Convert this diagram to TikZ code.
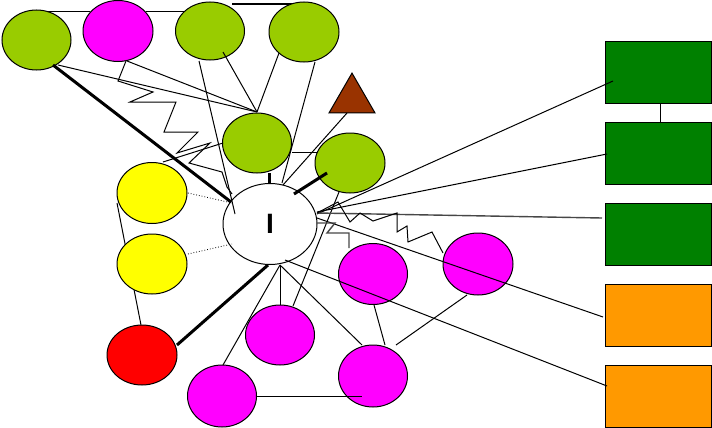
\documentclass[tikz,border=0pt]{standalone}
\usepackage{fontspec}
\setmainfont{Liberation Sans}
\usetikzlibrary{shapes.geometric,calc,backgrounds}
\definecolor{lgreen}{HTML}{99CC00}
\definecolor{mag}{HTML}{FF00FF}
\definecolor{yel}{HTML}{FFFF00}
\definecolor{rd}{HTML}{FF0000}
\definecolor{brn}{HTML}{993300}
\definecolor{dgreen}{HTML}{008000}
\definecolor{orng}{HTML}{FF9900}
\tikzset{
  ell/.style={ellipse, draw=black, line width=1pt, inner sep=0pt, minimum width=70pt, minimum height=61pt},
  gbub/.style={ell, fill=lgreen},
  mbub/.style={ell, fill=mag},
  ybub/.style={ell, fill=yel},
  rbub/.style={ell, fill=rd},
  boxn/.style={rectangle, draw=black, line width=1pt, minimum width=106pt, minimum height=62pt, inner sep=0pt},
  conn/.style={line width=1pt, black},
  heavy/.style={line width=3pt, black},
  dotl/.style={line width=0.8pt, black, dotted},
  grayl/.style={line width=1.4pt, black!72},
}
\begin{document}
\begin{tikzpicture}[x=1pt, y=-1pt]
\useasboundingbox (0,0) rectangle (712,428);
% nodes
\node[gbub, minimum width=69pt, minimum height=60pt] (G1) at (36.5,40) {};
\node[mbub] (M1) at (118,31) {};
\node[gbub, minimum width=69pt, minimum height=58pt] (G2) at (210,31) {};
\node[gbub, minimum height=60pt] (G3) at (304,32) {};
\node[gbub, minimum width=69pt, minimum height=60pt] (G4) at (257,143) {};
\node[gbub, minimum height=60pt] (G5) at (350,163) {};
\node[regular polygon, regular polygon sides=3, draw=black, line width=1pt, fill=brn, inner sep=0pt, minimum size=53pt] (T) at (352,99.6) {};
\node[ybub] (Y1) at (152,193) {};
\node[ybub, minimum height=60pt] (Y2) at (152,264) {};
\node[rbub, minimum height=60pt] (R) at (142,355) {};
\node[ell, fill=white, minimum width=94pt, minimum height=81pt, font=\bfseries\fontsize{28}{30}\selectfont] (C) at (270,224) {I};
\node[mbub, minimum width=69pt, minimum height=60pt] (M2) at (280,335) {};
\node[mbub, minimum width=69pt, minimum height=62pt] (M3) at (222,396) {};
\node[mbub, minimum width=69pt] (M4) at (373,274) {};
\node[mbub, minimum width=69pt, minimum height=62pt] (M5) at (373,376) {};
\node[mbub, minimum height=62pt] (M6) at (478,264) {};
\node[boxn, fill=dgreen] (R1) at (658,72.5) {};
\node[boxn, fill=dgreen] (R2) at (658,153.5) {};
\node[boxn, fill=dgreen] (R3) at (658,234) {};
\node[boxn, fill=orng] (R4) at (658,315) {};
\node[boxn, fill=orng] (R5) at (658,396) {};
% hidden connectors
\begin{scope}[on background layer]
\draw[conn] ($(G1)+(11.5,-28)$) -- ($(M1)+(-28,-19)$);
\draw[conn] ($(M1)+(28,-19)$) -- ($(G2)+(-22,-19)$);
\draw[line width=2.5pt] ($(G2)+(22,-27)$) -- ($(G3)+(-11,-28)$);
\draw[conn] ($(Y1)+(-35,10)$) -- ($(R)+(-1,-30)$);
\draw[conn] ($(R1)+(2,31.5)$) -- ($(R2)+(2,-31.5)$);
\end{scope}
% connectors
\draw[heavy] ($(G1)+(16.5,25)$) -- ($(C)+(-39,-22)$);
\draw[conn] ($(G1)+(21.5,25)$) -- ($(G4)+(0,-31)$);
\draw[conn] ($(M1)+(9,30)$) -- ($(G4)+(0,-31)$);
\draw[conn] ($(M1)+(8,30)$) -- ++(-8,20) -- ++(35,11) -- ++(-23,10) -- ++(46,0)
  -- ++(-12,30) -- ++(34,0) -- ++(-21,21) -- ++(33,-10) -- ++(-21,20) -- ++(33,9)
  -- ++(5,15) -- ($(C)+(-38,-30)$);
\draw[conn] ($(Y1)+(11,-31)$) -- ($(G4)+(-34,0)$);
\draw[conn] ($(G2)+(-11,30)$) -- ($(C)+(-35,-10)$);
\draw[conn] ($(G2)+(13,21)$) -- ($(G4)+(0,-31)$);
\draw[conn] ($(G3)+(-25,21)$) -- ($(G4)+(0,-31)$);
\draw[conn] ($(G3)+(11,30)$) -- ($(C)+(12,-41)$);
\draw[conn] ($(T)+(-5,13.4)$) -- ($(C)+(13,-39)$);
\draw[conn] ($(G4)+(35,9)$) -- ($(G5)+(-33,-11)$);
\draw[heavy] ($(G4)+(12,30)$) -- ($(C)+(-1,-41)$);
\draw[heavy] ($(G5)+(-23,10)$) -- ($(C)+(24,-30)$);
\draw[dotl] ($(Y1)+(36,0)$) -- ($(C)+(-38,-21)$);
\draw[dotl] ($(Y2)+(36,-10)$) -- ($(C)+(-38,20)$);
\draw[heavy] ($(R)+(35,-10)$) -- ($(C)+(-2,41)$);
\draw[conn] ($(C)+(10,41)$) -- ($(M3)+(1,-31)$);
\draw[conn] ($(C)+(10,41)$) -- ($(M2)+(0,-30)$);
\draw[conn] ($(C)+(10,41)$) -- ($(M5)+(-11,-31)$);
\draw[conn] ($(G5)+(-11,29)$) -- ($(M2)+(13,-29)$);
\draw[conn] ($(C)+(15,36)$) -- ($(R5)+(-51,-10)$);
\draw[conn] ($(C)+(47,-6)$) -- ($(R4)+(-55,2)$);
\draw[conn] ($(C)+(47,-10)$) -- ($(R1)+(-45,8.5)$);
\draw[conn] ($(C)+(47,-12)$) -- ($(R2)+(-51,0.5)$);
\draw[grayl] ($(C)+(47,-11)$) -- ($(R3)+(-56,-16)$);
\draw[grayl] ($(C)+(47,-1)$) -- ++(18,0) -- ++(-8,10) -- ++(22,0) -- ($(M4)+(-24,-26)$);
\draw[conn] ($(C)+(47,-11)$) -- ++(21,-11) -- ++(12,20) -- ++(10,-9) -- ++(13,8)
  -- ++(24,-8) -- ++(0,19) -- ++(10,-6) -- ++(1,16) -- ++(24,-10) -- ($(M6)+(-35,-11)$);
\draw[conn] ($(M4)+(1,31)$) -- ($(M5)+(12,-31)$);
\draw[conn] ($(M6)+(-11,31)$) -- ($(M5)+(23,-31)$);
\draw[conn] ($(M3)+(35,0)$) -- ($(M5)+(-11,20)$);
\end{tikzpicture}
\end{document}
